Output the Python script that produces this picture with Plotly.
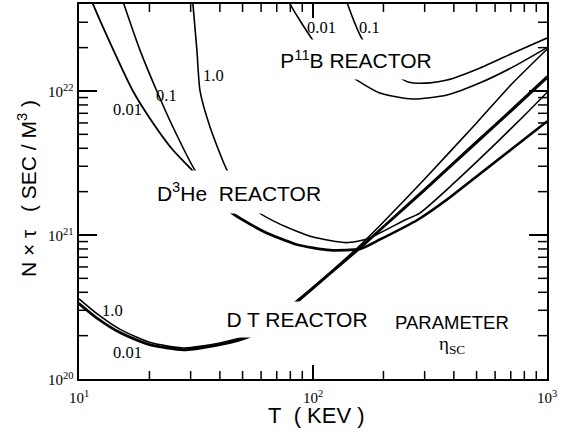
import math
import plotly.graph_objects as go

# ---------------- data (N*tau in units of 1e20 s/m^3, T in keV) ----------------
T_DT = [10, 12, 15, 20, 28, 40, 53, 70, 86, 120, 157, 200, 300, 500, 700, 1000]
DT_001 = [3.31, 2.61, 2.08, 1.72, 1.585, 1.72, 1.95, 2.63, 3.43, 5.46, 7.94, 11.3, 20.4, 43.6, 71.8, 123]
DT_01 = [3.38, 2.66, 2.12, 1.75, 1.61, 1.75, 1.99, 2.68, 3.50, 5.56, 8.10, 11.55, 20.9, 44.8, 74.0, 127]
DT_10 = [3.60, 2.82, 2.21, 1.80, 1.64, 1.78, 2.02, 2.72, 3.55, 5.62, 8.32, 12.3, 24.5, 60.0, 110, 195]

T_D3HE_001 = [11.0, 11.5, 13.6, 17.0, 20.7, 25.2, 30.4, 37, 44.2, 61.4, 85.1, 118, 159, 193, 281, 374, 500, 700, 1000]
D3HE_001 = [478.6, 398, 215, 100, 60.0, 38.9, 28.2, 19.5, 14.4, 10.5, 8.53, 7.78, 7.94, 9.23, 12.7, 17.5, 25.3, 38.7, 61.0]
T_D3HE_01 = [15.0, 15.6, 18.2, 21.5, 25.2, 31.3, 37.5, 44.2, 61.4, 85.1, 118, 159, 193, 281, 374, 500, 700, 1000]
D3HE_01 = [478.6, 395, 193, 100, 56.2, 28.2, 19.95, 14.7, 10.7, 8.67, 7.91, 8.07, 9.38, 12.9, 17.8, 25.7, 39.4, 61.9]
T_D3HE_10 = [30.3, 30.7, 31.9, 32.9, 36.3, 42.9, 50, 58.2, 72.2, 100, 139, 169, 247, 286, 400, 600, 800, 1000]
D3HE_10 = [562, 398, 193, 100, 56.2, 28.2, 19.5, 14.5, 11.9, 9.68, 8.85, 9.33, 12.7, 14.2, 22.9, 42.7, 67.6, 97.7]

T_PB_001 = [77, 79.8, 99, 120, 154, 193, 267, 374, 518, 716, 1000]
PB_001 = [478.6, 402, 230, 158.5, 119, 96.8, 87.9, 93.8, 114, 147, 200]
T_PB_01 = [136, 141, 162, 200, 255, 316, 374, 518, 716, 1000]
PB_01 = [478.6, 395, 230, 148, 115.5, 113.8, 119, 144.5, 183.7, 233]

X_TICKS = [10, 100, 1000]
X_TICK_TEXT = ["10<sup>1</sup>", "10<sup>2</sup>", "10<sup>3</sup>"]
Y_TICKS = [1e20, 1e21, 1e22]
Y_TICK_TEXT = ["10<sup>20</sup>", "10<sup>21</sup>", "10<sup>22</sup>"]
MINOR_DIGITS = [2, 3, 4, 5, 6, 7, 8, 9]

SCALE = 1e20
X_RANGE = [1, 3]
Y_RANGE = [20, 22.604]
PLOT_W, PLOT_H = 468.0, 375.0

curves = [
    (T_DT, DT_001, 2.0), (T_DT, DT_01, 1.6), (T_DT, DT_10, 1.6),
    (T_D3HE_001, D3HE_001, 1.8), (T_D3HE_01, D3HE_01, 1.6), (T_D3HE_10, D3HE_10, 1.6),
    (T_PB_001, PB_001, 1.6), (T_PB_01, PB_01, 1.6),
]

fig = go.Figure()
for xs, ys, w in curves:
    fig.add_trace(go.Scatter(
        x=xs, y=[v * SCALE for v in ys], mode="lines",
        line=dict(color="black", width=w, shape="spline", smoothing=0.6),
        hoverinfo="skip", showlegend=False,
    ))

# invisible trace that carries the top / right frame axes
fig.add_trace(go.Scatter(x=[X_TICKS[0]], y=[Y_TICKS[0]], xaxis="x2", yaxis="y2",
                         mode="markers", marker=dict(opacity=0), hoverinfo="skip",
                         showlegend=False))

SANS = "Liberation Sans, Arial, sans-serif"
SERIF = "Liberation Serif, Times New Roman, serif"
NB = "\u00a0"

def pos(px, py):
    return (px - 79) / PLOT_W, (379 - py) / PLOT_H

annots = []

def label(text, px, py, size, family, box=None, angle=0):
    x, y = pos(px, py)
    a = dict(text=text, x=x, y=y, xref="paper", yref="paper", showarrow=False,
             xanchor="center", yanchor="middle", textangle=angle,
             font=dict(family=family, size=size, color="black"))
    if box:
        a.update(width=box[0], height=box[1], bgcolor="white", borderpad=1)
    annots.append(a)

# tick labels, placed through the axes' own log scales
for v, t in zip(X_TICKS, X_TICK_TEXT):
    annots.append(dict(text=t, x=math.log10(v), xref="x", y=0, yref="paper",
                       yshift=-7, xanchor="center", yanchor="top", showarrow=False,
                       font=dict(family=SERIF, size=15, color="black")))
for v, t in zip(Y_TICKS, Y_TICK_TEXT):
    annots.append(dict(text=t, x=0, xref="paper", y=math.log10(v), yref="y",
                       xshift=-3, xanchor="right", yanchor="middle", showarrow=False,
                       font=dict(family=SERIF, size=15, color="black")))

# reactor labels (white boxes interrupt curves)
label("D<sup>3</sup>He" + NB + NB + "REACTOR", 239, 192, 21, SANS, box=(172, 40))
label("D T REACTOR", 297, 319, 21, SANS, box=(148, 33))
label("P<sup>11</sup>B REACTOR", 356, 60, 21, SANS, box=(160, 37))
label("PARAMETER", 452, 322, 18.5, SANS)
label("η<sub>SC</sub>", 452, 345, 19, SERIF)

# curve parameter labels
label("1.0", 213, 75, 16.5, SERIF)
label("0.1", 166, 95, 16.5, SERIF)
label("0.01", 127, 110, 16.5, SERIF)
label("0.01", 321, 27, 16.5, SERIF)
label("0.1", 369, 27, 16.5, SERIF)
label("1.0", 112, 310, 16.5, SERIF)
label("0.01", 127, 352, 16.5, SERIF)

# axis titles
label("T" + NB + NB + "( KEV )", 316, 415, 22, SANS)
label("N × τ" + NB * 3 + "( SEC / M<sup>3</sup> )", 27, 189, 21, SANS, angle=-90)

def frame_axis(rng, side, anchor, overlay=None):
    d = dict(type="log", range=rng, showgrid=False, zeroline=False,
             showline=True, linecolor="black", linewidth=2,
             ticks="", showticklabels=False, side=side, anchor=anchor)
    if overlay:
        d.update(overlaying=overlay)
    return d

layout_axes = dict(
    xaxis=frame_axis(X_RANGE, "bottom", "y"),
    yaxis=frame_axis(Y_RANGE, "left", "x"),
    xaxis2=frame_axis(X_RANGE, "top", "y2", "x"),
    yaxis2=frame_axis(Y_RANGE, "right", "x2", "y"),
)

# tick positions inside the ranges (decades and 2..9 sub-decades)
def inside(vals, rng):
    return [v for v in vals if rng[0] + 0.005 < math.log10(v) < rng[1] - 0.005]

x_major = inside(X_TICKS, X_RANGE)
y_major = inside(Y_TICKS, Y_RANGE)
x_minor = inside([m * d for d in X_TICKS for m in MINOR_DIGITS], X_RANGE)
y_minor = inside([m * d for d in Y_TICKS for m in MINOR_DIGITS], Y_RANGE)

# tick marks: short segments in thin strip subplots along each edge
strips = [
    # (k, letter, tick values, line width, strip domain along the other direction)
    (3, "x", x_major, 2.0, [0, 14 / PLOT_H]),
    (4, "x", x_minor, 1.5, [0, 8 / PLOT_H]),
    (5, "x", x_major, 2.0, [1 - 14 / PLOT_H, 1]),
    (6, "x", x_minor, 1.5, [1 - 8 / PLOT_H, 1]),
    (7, "y", y_major, 2.0, [0, 18 / PLOT_W]),
    (8, "y", y_minor, 1.5, [0, 9 / PLOT_W]),
    (9, "y", y_major, 2.0, [1 - 18 / PLOT_W, 1]),
    (10, "y", y_minor, 1.5, [1 - 9 / PLOT_W, 1]),
]

def hidden(**kw):
    d = dict(visible=False, showgrid=False, zeroline=False, showticklabels=False)
    d.update(kw)
    return d

for k, letter, vals, wd, dom in strips:
    pos_vals, ends = [], []
    for v in vals:
        pos_vals += [v, v, None]
        ends += [0, 1, None]
    if letter == "x":
        layout_axes[f"xaxis{k}"] = hidden(type="log", range=X_RANGE, anchor=f"y{k}")
        layout_axes[f"yaxis{k}"] = hidden(range=[0, 1], domain=dom, anchor=f"x{k}")
        tx, ty = pos_vals, ends
    else:
        layout_axes[f"yaxis{k}"] = hidden(type="log", range=Y_RANGE, anchor=f"x{k}")
        layout_axes[f"xaxis{k}"] = hidden(range=[0, 1], domain=dom, anchor=f"y{k}")
        tx, ty = ends, pos_vals
    fig.add_trace(go.Scatter(x=tx, y=ty, xaxis=f"x{k}", yaxis=f"y{k}", mode="lines",
                             line=dict(color="black", width=wd), connectgaps=False,
                             hoverinfo="skip", showlegend=False))

fig.update_layout(
    width=563, height=434,
    margin=dict(l=79, r=16, t=4, b=55),
    paper_bgcolor="white", plot_bgcolor="rgba(0,0,0,0)",
    showlegend=False, hovermode=False,
    annotations=annots,
    **layout_axes,
)

fig.write_html("out.html", config={"displayModeBar": False},
               post_script="document.body.style.margin='0';")
